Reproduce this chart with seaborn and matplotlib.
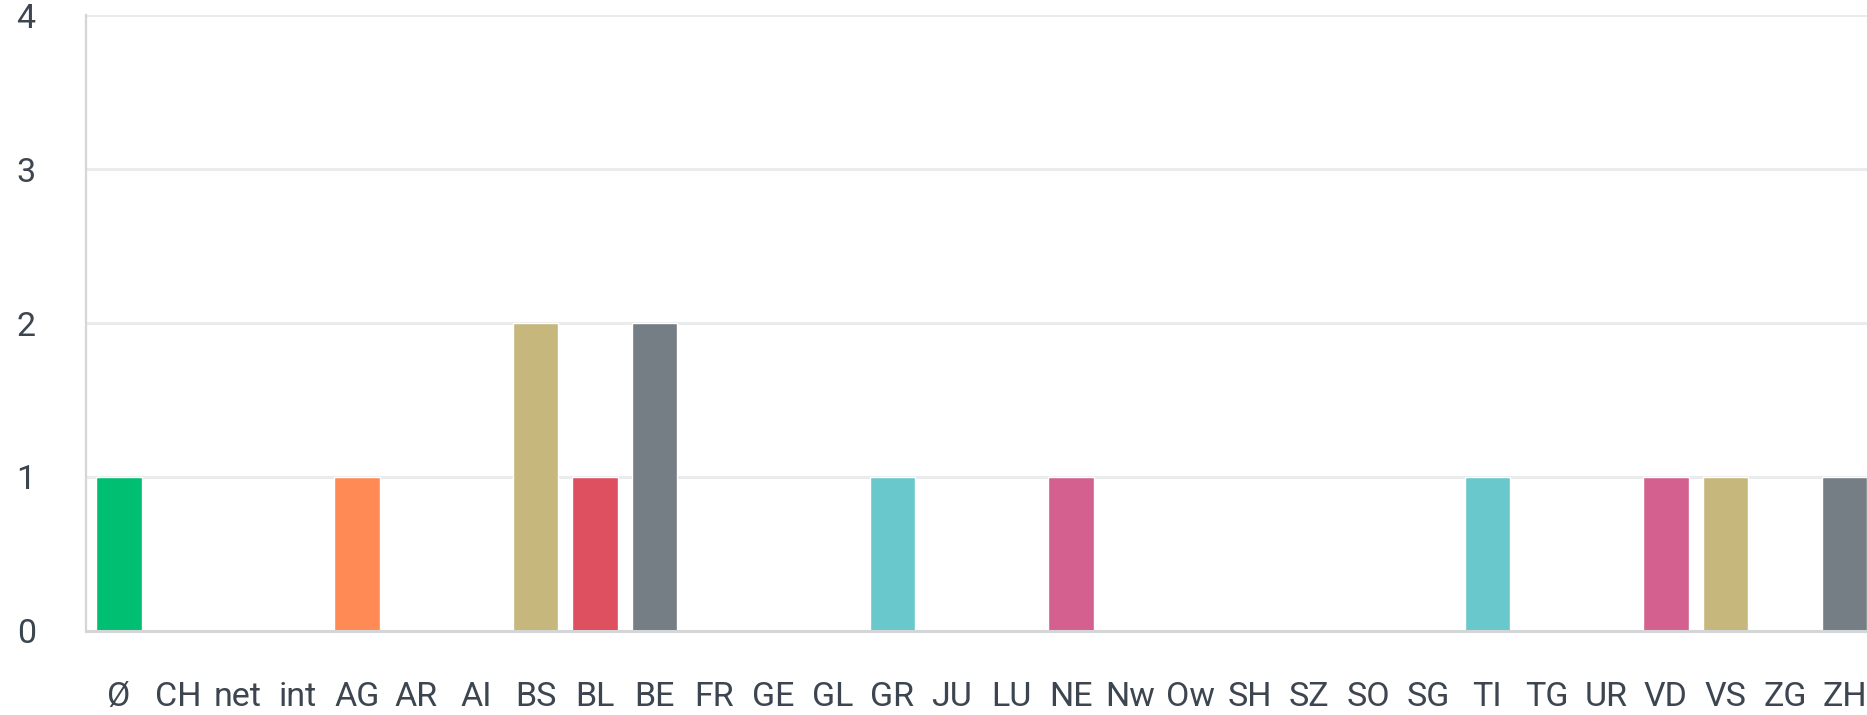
"""
Bar chart by canton — seaborn recreation
"""
import matplotlib
matplotlib.use("Agg")
import matplotlib.pyplot as plt
import seaborn as sns
import pandas as pd

# ── Données ───────────────────────────────────────────────────────────────────

cantons = ["Ø", "CH", "net", "int", "AG", "AR", "AI", "BS", "BL", "BE",
           "FR", "GE", "GL", "GR", "JU", "LU", "NE", "Nw", "Ow", "SH",
           "SZ", "SO", "SG", "TI", "TG", "UR", "VD", "VS", "ZG", "ZH"]
counts = [1, 0, 0, 0, 1, 0, 0, 2, 1, 2,
          0, 0, 0, 1, 0, 0, 1, 0, 0, 0,
          0, 0, 0, 1, 0, 0, 1, 1, 0, 1]
yticks = [0, 1, 2, 3, 4]

# palette qui tourne tous les 10 cantons
cycle = ["#00BF72", "#4A90D9", "#9B6FC3", "#69C8CC", "#FF8A55",
         "#F2C14E", "#D46090", "#C6B77D", "#DE4F5F", "#757D85"]
colors = [cycle[i % len(cycle)] for i in range(len(cantons))]

df = pd.DataFrame({"canton": cantons, "n": counts})

# ── Figure ────────────────────────────────────────────────────────────────────

sns.set_theme(style="white")
plt.rcParams["font.family"] = ["Roboto", "DejaVu Sans"]
text_col = "#3D4650"

fig = plt.figure(figsize=(18.67, 7.15), dpi=100)
ax = fig.add_axes([0.0459, 0.1175, 0.9541, 0.8615])

sns.barplot(data=df, x="canton", y="n", hue="canton", palette=colors,
            legend=False, width=0.76, ax=ax, saturation=1)

ax.set_xlim(-0.56, 29.38)
ax.set_ylim(0, 4)
ax.set_yticks(yticks)
ax.set_xlabel("")
ax.set_ylabel("")

ax.grid(axis="y", color="#E9EBEC", linewidth=2.2)
ax.set_axisbelow(True)
for s in ["top", "right"]:
    ax.spines[s].set_visible(False)
ax.spines["left"].set_color("#D3D5D7")
ax.spines["left"].set_linewidth(1.6)
ax.spines["bottom"].set_color("#D3D5D7")
ax.spines["bottom"].set_linewidth(2.2)

ax.tick_params(axis="both", length=0, labelsize=24.5, labelcolor=text_col)
ax.tick_params(axis="y", pad=36)
ax.tick_params(axis="x", pad=36)

fig.savefig("out.png", dpi=100)
